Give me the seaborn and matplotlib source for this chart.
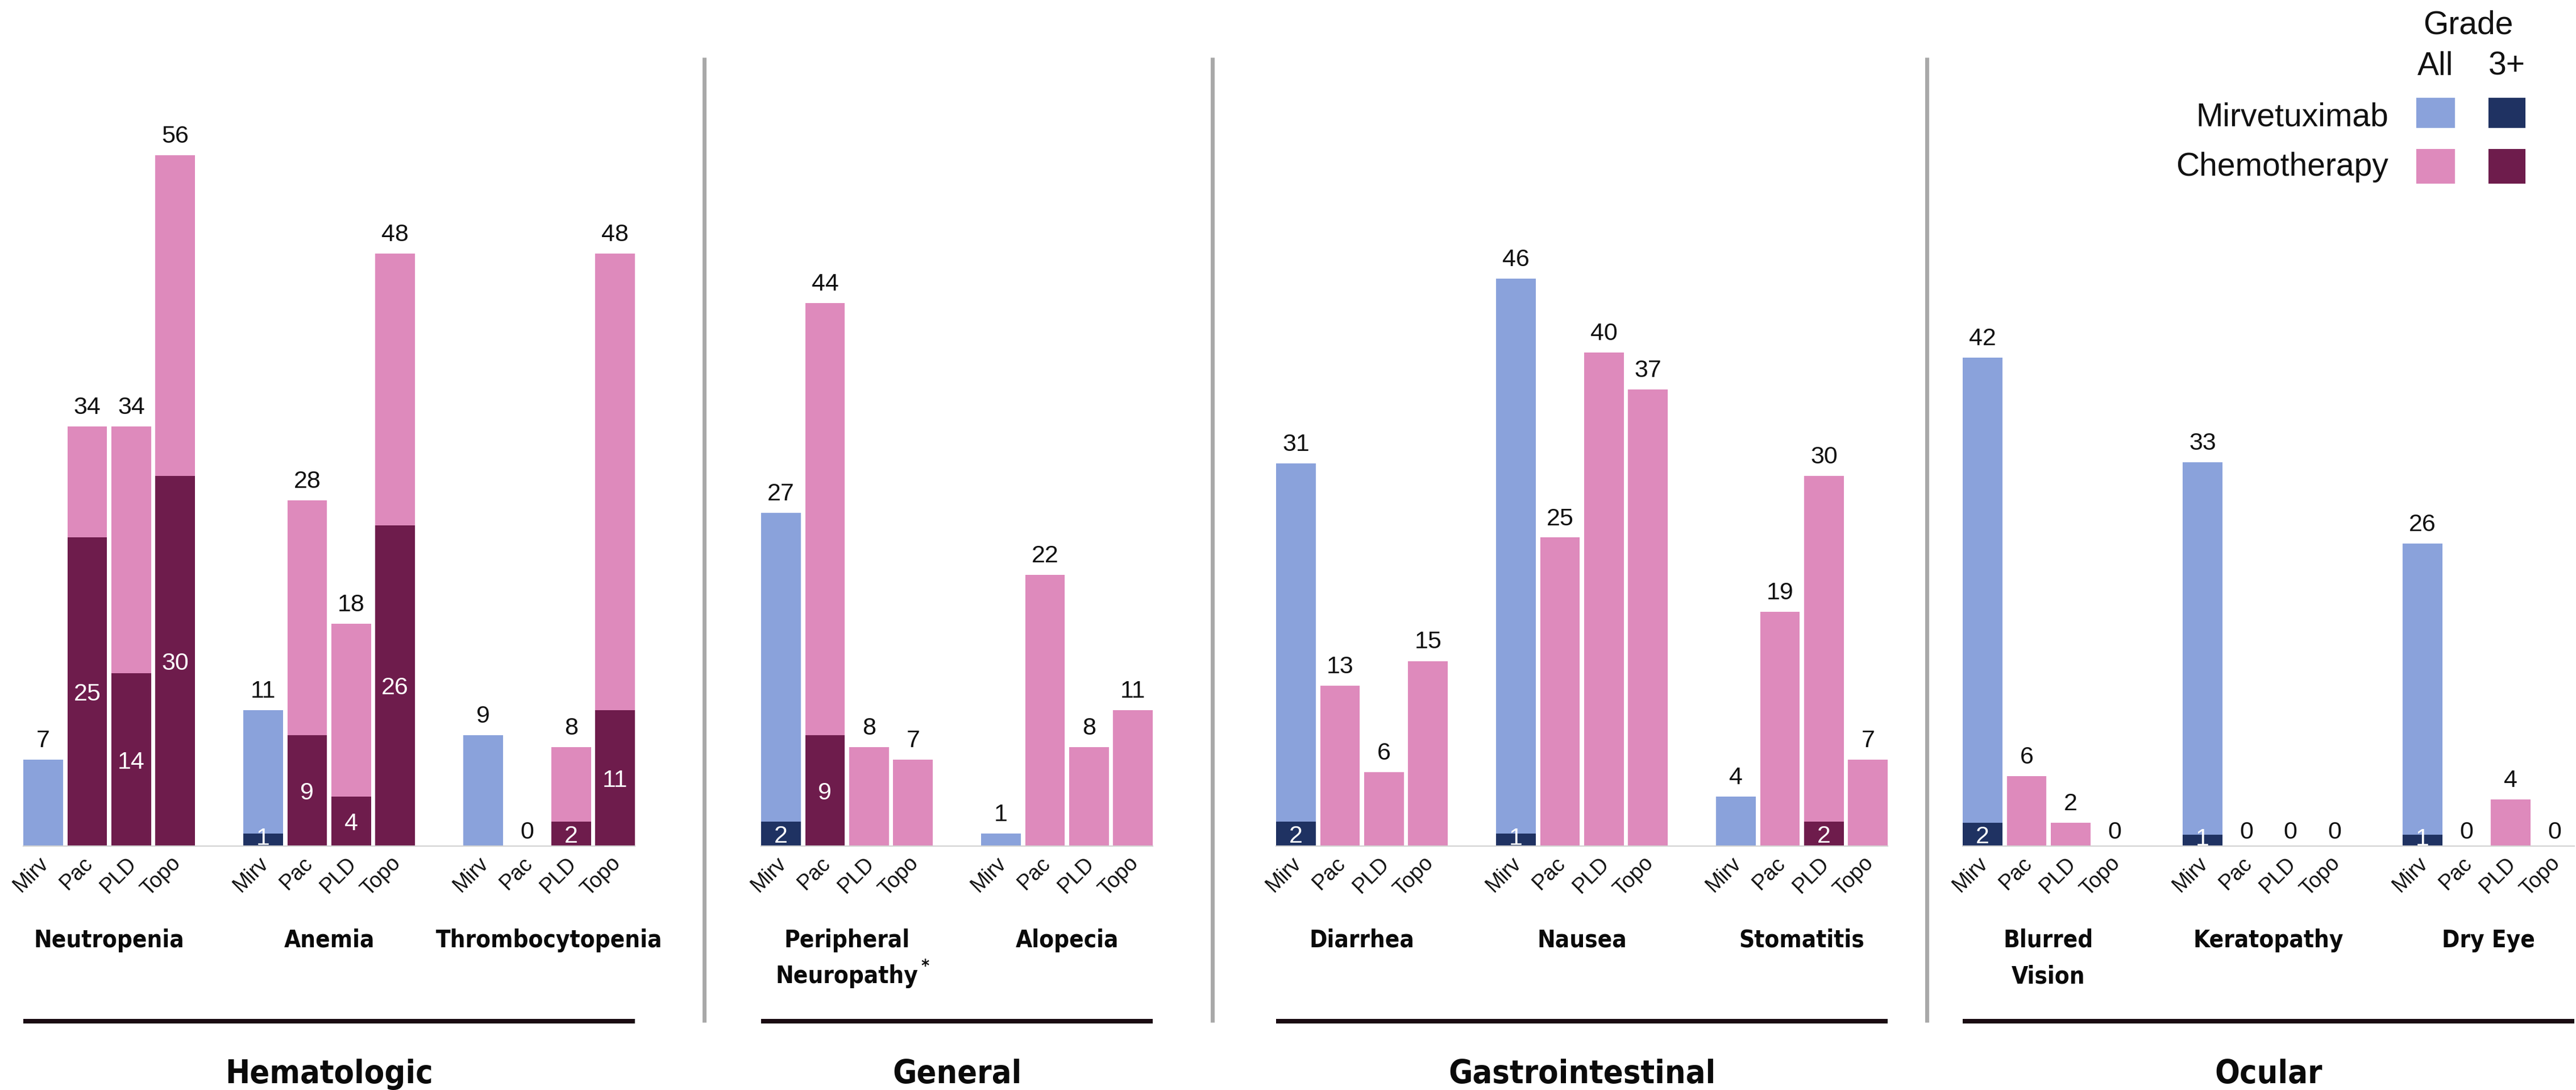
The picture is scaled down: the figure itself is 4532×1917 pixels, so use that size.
import numpy as np
import pandas as pd
import matplotlib
matplotlib.use("Agg")
import matplotlib.pyplot as plt
import seaborn as sns
from matplotlib import font_manager as fm
from matplotlib.font_manager import FontProperties
from matplotlib.patches import Rectangle
from matplotlib.textpath import TextPath

# ---------------------------------------------------------------- data ----
arms = ["Mirv", "Pac", "PLD", "Topo"]
systems = ["Hematologic", "General", "Gastrointestinal", "Ocular"]

hem_events = ["Neutropenia", "Anemia", "Thrombocytopenia"]
hem_all = [[7, 34, 34, 56], [11, 28, 18, 48], [9, 0, 8, 48]]
hem_g3 = [[None, 25, 14, 30], [1, 9, 4, 26], [None, None, 2, 11]]

gen_events = ["Peripheral\nNeuropathy*", "Alopecia"]
gen_all = [[27, 44, 8, 7], [1, 22, 8, 11]]
gen_g3 = [[2, 9, None, None], [None, None, None, None]]

gi_events = ["Diarrhea", "Nausea", "Stomatitis"]
gi_all = [[31, 13, 6, 15], [46, 25, 40, 37], [4, 19, 30, 7]]
gi_g3 = [[2, None, None, None], [1, None, None, None], [None, None, 2, None]]

ocu_events = ["Blurred\nVision", "Keratopathy", "Dry Eye"]
ocu_all = [[42, 6, 2, 0], [33, 0, 0, 0], [26, 0, 4, 0]]
ocu_g3 = [[2, None, None, None], [1, None, None, None], [1, None, None, None]]

legend_rows = ["Mirvetuximab", "Chemotherapy"]
legend_cols = ["All", "3+"]

# -------------------------------------------------------------- styling ---
MIRV_ALL, MIRV_G3 = "#8aa2db", "#1f3262"
CHEMO_ALL, CHEMO_G3 = "#de8abc", "#6e1c4c"
pal_all = {"Mirvetuximab": MIRV_ALL, "Chemotherapy": CHEMO_ALL}
pal_g3 = {"Mirvetuximab": MIRV_G3, "Chemotherapy": CHEMO_G3}

sns.set_theme(style="white")
plt.rcParams["font.family"] = ["Liberation Sans", "DejaVu Sans"]

VALUE_FS = 31
TICK_FS = 27
LEGEND_FS = 41
DPI = 100


def condensed_bold_file():
    """Pick a narrow bold face for the headings, if one is installed."""
    narrow = {"condensed", "semi-condensed", "extra-condensed", "ultra-condensed"}
    order = ["Liberation Sans Narrow", "Arial Narrow", "Noto Sans", "Roboto",
             "Open Sans", "DejaVu Sans"]
    found = {}
    for f in fm.fontManager.ttflist:
        w = f.weight if isinstance(f.weight, int) else fm.weight_dict.get(f.weight, 400)
        is_narrow = (str(f.stretch) in narrow or "narrow" in f.name.lower()
                     or "condensed" in f.name.lower()
                     or "condensed" in f.fname.lower() or "narrow" in f.fname.lower())
        if is_narrow and f.style == "normal" and 600 <= w <= 750:
            found.setdefault(f.name, f.fname)
    for name in order:
        if name in found:
            return found[name]
    return None


head_file = condensed_bold_file()

# --------------------------------------------------------------- layout ---
W, H = 4532, 1917
PITCH = 77.4          # pixels per bar slot
BASE_Y = 1488         # baseline of the bars (pixels from top)
TOP_Y = 120
panel_x0 = [76, 1374, 2280, 3488]       # centre of first bar in each panel
panel_ppu = [21.7, 21.7, 21.7, 20.45]   # pixels per percentage point
dividers_x = [1239, 2133, 3390]

fig = plt.figure(figsize=(W / DPI, H / DPI), dpi=DPI)
fig.canvas.draw()
renderer = fig.canvas.get_renderer()


def head_props(size):
    if head_file:
        return FontProperties(fname=head_file, size=size)
    return FontProperties(family=["Liberation Sans", "DejaVu Sans"], weight="bold", size=size)


def heading_size(text, width_px, cap_px, ref=40):
    """Font size weighing the printed width against the capital height."""
    t = fig.text(0, 0, text, fontproperties=head_props(ref))
    w = t.get_window_extent(renderer=renderer).width
    t.remove()
    by_width = ref * width_px / w
    cap_ratio = TextPath((0, 0), "H", size=100, prop=head_props(100)).get_extents().height / 100
    by_height = cap_px / cap_ratio * 72 / DPI
    return by_width ** 0.75 * by_height ** 0.25


GROUP_FS = heading_size("Neutropenia", 251, 36)
SYS_FS = heading_size("Gastrointestinal", 442, 50)

# overlay axes in pixel coordinates for rules, headings and the key
over = fig.add_axes([0, 0, 1, 1])
over.set_xlim(0, W)
over.set_ylim(H, 0)
over.axis("off")


def panel_frame(events, all_vals, g3_vals):
    rows = []
    for i, ev in enumerate(events):
        for j, arm in enumerate(arms):
            g3 = g3_vals[i][j]
            rows.append(dict(slot=5 * i + j, event=ev, arm=arm,
                             agent="Mirvetuximab" if arm == "Mirv" else "Chemotherapy",
                             all=all_vals[i][j],
                             g3=np.nan if g3 is None else g3))
    return pd.DataFrame(rows)


panels = [
    (hem_events, hem_all, hem_g3),
    (gen_events, gen_all, gen_g3),
    (gi_events, gi_all, gi_g3),
    (ocu_events, ocu_all, ocu_g3),
]

for p, (events, all_vals, g3_vals) in enumerate(panels):
    df = panel_frame(events, all_vals, g3_vals)
    df["g3_bar"] = df["g3"].fillna(0)
    n_slots = 5 * len(events) - 1
    x0 = panel_x0[p]
    ppu = panel_ppu[p]
    left_px = x0 - 0.45 * PITCH
    width_px = (n_slots - 0.1) * PITCH
    ax = fig.add_axes([left_px / W, (H - BASE_Y) / H,
                       width_px / W, (BASE_Y - TOP_Y) / H])
    ax.set_facecolor("none")

    sns.barplot(data=df, x="slot", y="all", hue="agent", palette=pal_all,
                native_scale=True, dodge=False, width=0.9, errorbar=None,
                saturation=1, linewidth=0, legend=False, ax=ax)
    sns.barplot(data=df, x="slot", y="g3_bar", hue="agent", palette=pal_g3,
                native_scale=True, dodge=False, width=0.9, errorbar=None,
                saturation=1, linewidth=0, legend=False, ax=ax)

    ax.set_xlim(-0.45, n_slots - 0.55)
    ax.set_ylim(0, (BASE_Y - TOP_Y) / ppu)
    ax.set_xticks([])
    ax.set_yticks([])
    ax.set_xlabel("")
    ax.set_ylabel("")
    for side in ["top", "right", "left"]:
        ax.spines[side].set_visible(False)
    ax.spines["bottom"].set_color("#d2d2d2")
    ax.spines["bottom"].set_linewidth(1.6)

    for _, r in df.iterrows():
        v = r["all"]
        ax.annotate(f"{v:g}", xy=(r["slot"], v), xytext=(0, 22 if v > 0 else 13),
                    textcoords="offset pixels", ha="center", va="baseline",
                    fontsize=VALUE_FS, color="#111111")
        if not np.isnan(r["g3"]):
            g = r["g3"]
            ax.text(r["slot"], max(g / 2, 0.8), f"{g:g}", ha="center",
                    va="center_baseline", fontsize=VALUE_FS, color="white")
        ax.annotate(r["arm"], xy=(r["slot"], 0), xycoords=("data", "axes fraction"),
                    xytext=(-9, -12), textcoords="offset pixels", rotation=45,
                    ha="right", va="top", rotation_mode="anchor",
                    fontsize=TICK_FS, color="#111111")

    # event names under each group of four bars
    for i, ev in enumerate(events):
        cx = x0 + (5 * i + 1.5) * PITCH
        for k, line in enumerate(ev.split("\n")):
            base = 1666 + 63 * k
            txt = line.rstrip("*")
            t = over.text(cx, base, txt, ha="center", va="baseline",
                          fontproperties=head_props(GROUP_FS), color="#0a0a0a")
            if line.endswith("*"):
                bb = t.get_window_extent(renderer=renderer)
                over.text(bb.x1 + 5, base - 44, "*", ha="left", va="top",
                          fontproperties=head_props(GROUP_FS * 0.72), color="#0a0a0a")

    # rule and system name
    x_left = x0 - 0.45 * PITCH
    x_right = x0 + (n_slots - 0.55) * PITCH
    over.plot([x_left, x_right], [1796, 1796], color="#1a0b12", linewidth=5.8,
              solid_capstyle="butt")
    over.text((x_left + x_right) / 2, 1905, systems[p], ha="center", va="baseline",
              fontproperties=head_props(SYS_FS), color="#0a0a0a")

# vertical separators between systems
for xd in dividers_x:
    over.plot([xd, xd], [101, 1798], color="#a9a9a9", linewidth=5.0,
              solid_capstyle="butt")

# key
over.text(4342, 60, "Grade", ha="center", va="baseline", fontsize=LEGEND_FS, color="#111111")
col_x = [(4251, 4319), (4378, 4443)]
row_y = [(172, 225), (262, 323)]
for c, lab in enumerate(legend_cols):
    over.text(sum(col_x[c]) / 2, 132, lab, ha="center", va="baseline",
              fontsize=LEGEND_FS, color="#111111")
key_colors = [[MIRV_ALL, MIRV_G3], [CHEMO_ALL, CHEMO_G3]]
label_base = [222, 309]
for r, lab in enumerate(legend_rows):
    over.text(4202, label_base[r], lab, ha="right", va="baseline",
              fontsize=LEGEND_FS, color="#111111")
    for c in range(2):
        (xa, xb), (ya, yb) = col_x[c], row_y[r]
        over.add_patch(Rectangle((xa, ya), xb - xa, yb - ya,
                                 facecolor=key_colors[r][c], edgecolor="none"))

fig.savefig("out.png", dpi=DPI, facecolor="white")
